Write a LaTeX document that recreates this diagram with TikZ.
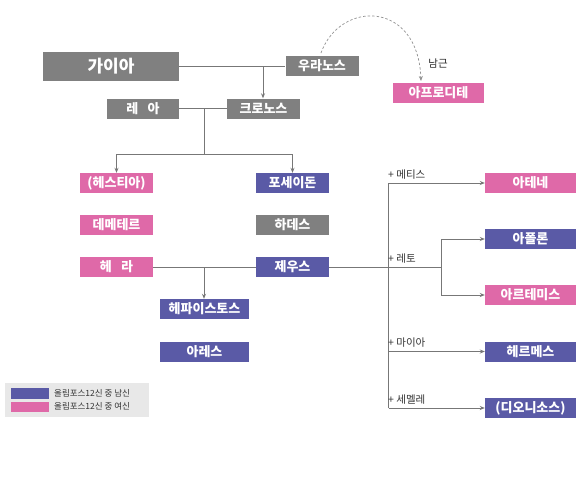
\documentclass[tikz,border=0pt]{standalone}
\usepackage{fontspec}
\setmainfont{Noto Sans CJK KR}
\usetikzlibrary{arrows.meta}
\definecolor{gbox}{HTML}{808080}
\definecolor{pbox}{HTML}{DF69A8}
\definecolor{bbox}{HTML}{5A5AA6}
\definecolor{lnc}{HTML}{777777}
\definecolor{lgbg}{HTML}{E8E8E8}
\tikzset{
  godbox/.style={rectangle, minimum width=73pt, minimum height=20pt, inner sep=0pt,
    text=white, font=\fontsize{13}{14}\selectfont\bfseries, draw=none},
  gray/.style={godbox, fill=gbox},
  pink/.style={godbox, fill=pbox},
  blue/.style={godbox, fill=bbox},
  wide/.style={minimum width=91pt},
  conn/.style={draw=lnc, line width=0.8pt},
  arr/.style={conn, -{Stealth[length=5pt,width=4pt]}},
  lbl/.style={text=black!80, font=\fontsize{10.5}{11}\selectfont, anchor=south west, inner sep=0pt},
}
\begin{document}
\begin{tikzpicture}[x=1pt,y=-1pt]
\useasboundingbox (0,0) rectangle (580,483);
\fill[white] (0,0) rectangle (580,483);
% nodes
\node[gray, minimum width=136pt, minimum height=29pt, font=\fontsize{17}{18}\selectfont\bfseries] (gaia) at (111,66) {가이아};
\node[gray] (uranus) at (322,66) {우라노스};
\node[pink, wide] (aphro) at (438.5,92.5) {아프로디테};
\node[text=black!85, font=\fontsize{10.5}{11}\selectfont] (namgeun) at (438,63) {남근};
\node[gray, minimum width=72pt] (rhea) at (143,108.5) {레\hspace{0.7em}아};
\node[gray] (kronos) at (263.5,108.5) {크로노스};
\node[pink] (hestia) at (116.5,183) {(헤스티아)};
\node[blue] (poseidon) at (292.5,183) {포세이돈};
\node[pink] (demeter) at (116.5,224.5) {데메테르};
\node[gray] (hades) at (292.5,224.5) {하데스};
\node[pink] (hera) at (116.5,267) {헤\hspace{0.7em}라};
\node[blue] (zeus) at (292.5,267) {제우스};
\node[blue, minimum width=89pt] (hephaestus) at (204.5,309) {헤파이스토스};
\node[blue, minimum width=89pt] (ares) at (204.5,351.5) {아레스};
\node[pink, wide] (athena) at (530.5,183) {아테네};
\node[blue, wide] (apollo) at (530.5,239) {아폴론};
\node[pink, wide] (artemis) at (530.5,295) {아르테미스};
\node[blue, wide] (hermes) at (530.5,351.5) {헤르메스};
\node[blue, wide] (dionysus) at (530.5,408) {(디오니소스)};
% connectors
\coordinate (j1) at (263,66);
\draw[conn] (gaia.east) -- (uranus.west);
\draw[arr] (j1) -- (kronos.north -| j1);
\coordinate (j2) at (204,108.5);
\coordinate (j3) at (204,154);
\draw[conn] (rhea.east) -- (kronos.west);
\draw[conn] (j2) -- (j3);
\coordinate (j3a) at (hestia.north |- j3);
\coordinate (j3b) at (poseidon.north |- j3);
\draw[arr] (j3) -- (j3a) -- (hestia.north);
\draw[arr] (j3) -- (j3b) -- (poseidon.north);
\draw[conn] (hera.east) -- (zeus.west);
\coordinate (j4) at (204,267);
\draw[arr] (j4) -- (j4 |- hephaestus.north);
\coordinate (k1) at (441.5,267);
\draw[conn] (zeus.east) -- (k1);
\coordinate (vtop) at (388.5,183);
\coordinate (vbot) at (388.5,408);
\draw[conn] (vbot) -- (vtop);
\draw[arr] (vtop) -- (athena.west);
\draw[arr] (k1) |- (apollo.west);
\draw[arr] (k1) |- (artemis.west);
\draw[arr] (vbot |- hermes.west) -- (hermes.west);
\draw[arr] (vbot) -- (dionysus.west);
\node[lbl] (l1) at (388,179.5) {+ 메티스};
\node[lbl] (l2) at (388,263.5) {+ 레토};
\node[lbl] (l3) at (388,348) {+ 마이아};
\node[lbl] (l4) at (388,404.5) {+ 세멜레};
% dashed arc
\coordinate (d0) at (321,53);
\coordinate (d1) at (421,81);
\draw[draw=lnc!80, line width=0.7pt, dashed, dash pattern=on 2.5pt off 2pt, -{Stealth[length=5pt,width=4pt]}] (d0) .. controls (340,0) and (418,0) .. (d1);
% legend
\node[fill=lgbg, minimum width=144pt, minimum height=34pt, inner sep=0pt] (legend) at (77,400) {};
\node[fill=bbox, minimum width=38pt, minimum height=11pt, inner sep=0pt] (sw1) at (29.5,393) {};
\node[fill=pbox, minimum width=38pt, minimum height=10pt, inner sep=0pt] (sw2) at (29.5,406.5) {};
\node[anchor=west, inner sep=0pt, font=\fontsize{8.5}{9}\selectfont, text=black!80] (t1) at (54,393) {올림포스12신 중 남신};
\node[anchor=west, inner sep=0pt, font=\fontsize{8.5}{9}\selectfont, text=black!80] (t2) at (54,406.5) {올림포스12신 중 여신};
\end{tikzpicture}
\end{document}
